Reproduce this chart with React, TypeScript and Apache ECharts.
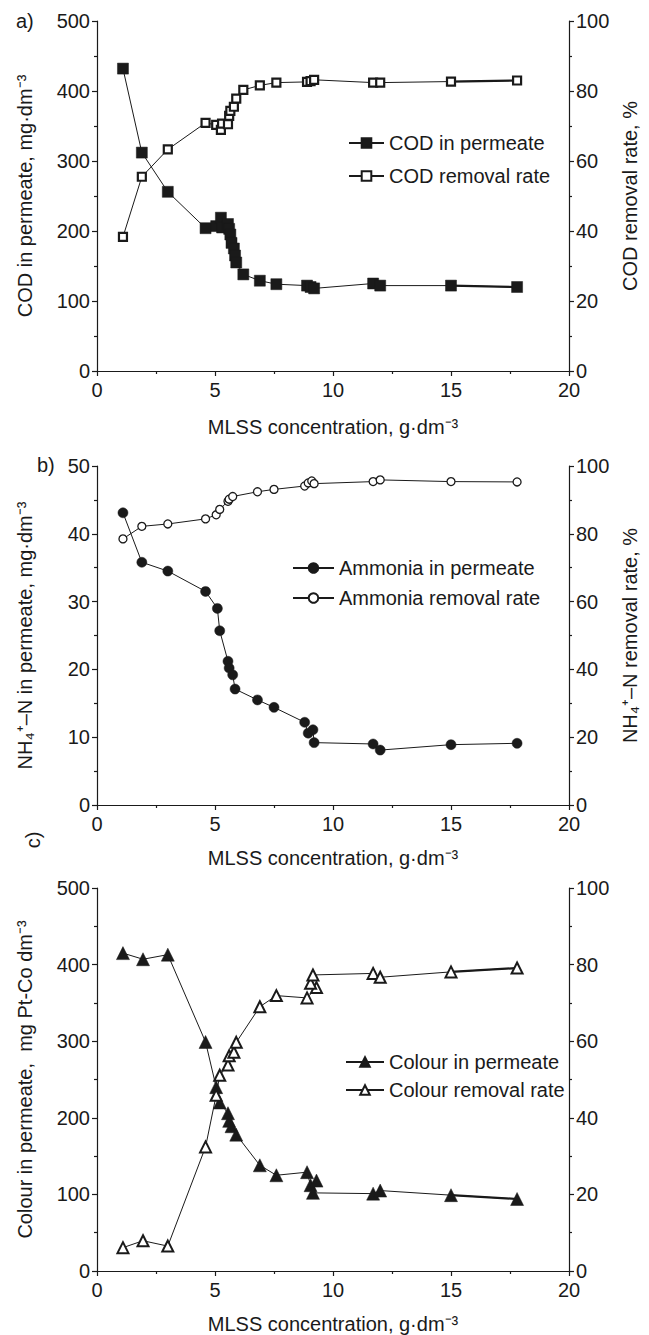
import React, { useEffect, useRef } from "react";
import * as echarts from "echarts";

// ---- Panel a: COD ----
const mlssCod = [1.1, 1.9, 3.0, 4.6, 5.05, 5.25, 5.3, 5.55, 5.6, 5.65, 5.7, 5.8, 5.85, 5.9, 6.2, 6.9, 7.6, 8.9, 9.05, 9.2, 11.7, 12.0, 15.0, 17.8];
const codPermeate = [432, 312, 256, 204, 207, 219, 205, 210, 203, 195, 183, 175, 165, 155, 138, 129, 124, 122, 120, 118, 125, 122, 122, 120];
const mlssCodRate = [1.1, 1.9, 3.0, 4.6, 5.05, 5.25, 5.3, 5.55, 5.6, 5.65, 5.8, 5.9, 6.2, 6.9, 7.6, 8.9, 9.05, 9.2, 11.7, 12.0, 15.0, 17.8];
const codRemoval = [38.3, 55.5, 63.3, 70.9, 70.3, 68.9, 70.7, 70.5, 72.9, 74.3, 75.5, 77.8, 80.3, 81.6, 82.4, 82.6, 82.8, 83.2, 82.4, 82.4, 82.7, 83.0];

// ---- Panel b: Ammonia ----
const mlssNh4 = [1.1, 1.9, 3.0, 4.6, 5.1, 5.2, 5.55, 5.6, 5.75, 5.85, 6.8, 7.5, 8.8, 8.95, 9.15, 9.2, 11.7, 12.0, 15.0, 17.8];
const nh4Permeate = [43.1, 35.8, 34.5, 31.5, 29.0, 25.7, 21.2, 20.2, 19.2, 17.1, 15.5, 14.4, 12.2, 10.6, 11.1, 9.2, 9.0, 8.1, 8.9, 9.1];
const mlssNh4Rate = [1.1, 1.9, 3.0, 4.6, 5.05, 5.2, 5.55, 5.6, 5.75, 6.8, 7.5, 8.8, 8.95, 9.1, 9.2, 11.7, 12.0, 15.0, 17.8];
const nh4Removal = [78.5, 82.2, 82.9, 84.4, 85.6, 87.2, 89.6, 90.2, 91.0, 92.4, 93.1, 94.1, 95.0, 95.6, 94.8, 95.4, 95.9, 95.4, 95.3];

// ---- Panel c: Colour ----
const mlssColour = [1.1, 1.95, 3.0, 4.6, 5.05, 5.2, 5.55, 5.6, 5.7, 5.9, 6.9, 7.6, 8.9, 9.05, 9.3, 9.15, 11.7, 12.0, 15.0, 17.8];
const colourPermeate = [415, 407, 413, 299, 240, 220, 206, 196, 189, 178, 138, 125, 129, 112, 118, 102, 101, 105, 99, 94];
const mlssColourRate = [1.1, 1.95, 3.0, 4.6, 5.05, 5.2, 5.55, 5.6, 5.8, 5.9, 6.9, 7.6, 8.9, 9.3, 9.05, 9.15, 11.7, 12.0, 15.0, 17.8];
const colourRemoval = [6.1, 7.9, 6.5, 32.4, 45.9, 51.1, 53.8, 56.2, 57.1, 59.7, 69.0, 71.9, 71.3, 74.0, 75.1, 77.3, 77.7, 76.7, 78.1, 79.1];

const xTitle = "MLSS concentration, g·dm⁻³";
const panelLabels = ["a)", "b)", "c)"];

const FONT = "'Liberation Sans', Arial, Helvetica, sans-serif";
const INK = "#1a1a1a";
const FS = 20;

const pairs = (xs: number[], ys: number[]) => xs.map((x, i) => [x, ys[i]]);
const lastTwo = (xs: number[], ys: number[]) => pairs(xs, ys).slice(-2);

const grids = [
  { left: 97, top: 21, width: 472, height: 350 },
  { left: 97, top: 466, width: 472, height: 339 },
  { left: 97, top: 888, width: 472, height: 383 },
];

function xAxisFor(i: number) {
  return {
    type: "value",
    gridIndex: i,
    min: 0,
    max: 20,
    interval: 5,
    name: xTitle,
    nameLocation: "middle",
    nameGap: i === 0 ? 46 : 43,
    nameTextStyle: { fontFamily: FONT, fontSize: FS, color: INK },
    axisLine: { show: true, onZero: false, lineStyle: { color: INK, width: 1.2 } },
    axisTick: { show: true, length: 5, lineStyle: { color: INK, width: 1.2 } },
    minorTick: { show: true, splitNumber: 2, length: 3, lineStyle: { color: INK, width: 1.2 } },
    splitLine: { show: false },
    minorSplitLine: { show: false },
    axisLabel: { fontFamily: FONT, fontSize: FS, color: INK, margin: 9 },
  };
}

function yAxisFor(i: number, pos: "left" | "right", max: number, interval: number, name: string) {
  return {
    type: "value",
    gridIndex: i,
    position: pos,
    min: 0,
    max,
    interval,
    name,
    nameLocation: "middle",
    nameRotate: 90,
    nameGap: pos === "left" ? 62 : 40,
    nameTextStyle: { fontFamily: FONT, fontSize: FS, color: INK },
    axisLine: { show: true, onZero: false, lineStyle: { color: INK, width: 1.2 } },
    axisTick: { show: true, length: 5, lineStyle: { color: INK, width: 1.2 } },
    minorTick: { show: true, splitNumber: 2, length: 3, lineStyle: { color: INK, width: 1.2 } },
    splitLine: { show: false },
    minorSplitLine: { show: false },
    axisLabel: { fontFamily: FONT, fontSize: FS, color: INK, margin: 7 },
  };
}

function lineSeries(name: string, xi: number, yi: number, data: number[][], symbol: string, size: number, filled: boolean, border = 2) {
  return {
    name,
    type: "line",
    xAxisIndex: xi,
    yAxisIndex: yi,
    data,
    symbol,
    symbolSize: size,
    showAllSymbol: true,
    z: 3,
    lineStyle: { color: INK, width: 1 },
    itemStyle: filled
      ? { color: INK, borderColor: INK, borderWidth: 0.5 }
      : { color: "#ffffff", borderColor: INK, borderWidth: border },
    emphasis: { disabled: true },
  };
}

// the final segment (15 -> 17.8) is drawn heavier in the original figure
function heavySegment(xi: number, yi: number, data: number[][]) {
  return {
    type: "line",
    xAxisIndex: xi,
    yAxisIndex: yi,
    data,
    symbol: "none",
    z: 2,
    silent: true,
    lineStyle: { color: INK, width: 2.2 },
    emphasis: { disabled: true },
  };
}

function legendFor(names: string[], left: number, top: number, gap: number, width: number) {
  return {
    data: names,
    orient: "vertical",
    left,
    top,
    itemWidth: width,
    itemHeight: 12,
    itemGap: gap,
    selectedMode: false,
    textStyle: { fontFamily: FONT, fontSize: FS, color: INK },
  };
}

export default function App() {
  const ref = useRef<HTMLDivElement>(null);
  useEffect(() => {
    if (!ref.current) return;
    const chart = echarts.init(ref.current, undefined, { renderer: "svg" });
    const option = {
      animation: false,
      backgroundColor: "#ffffff",
      grid: grids,
      xAxis: [xAxisFor(0), xAxisFor(1), xAxisFor(2)],
      yAxis: [
        yAxisFor(0, "left", 500, 100, "COD in permeate, mg·dm⁻³"),
        yAxisFor(0, "right", 100, 20, "COD removal rate, %"),
        yAxisFor(1, "left", 50, 10, "NH₄⁺–N in permeate, mg·dm⁻³"),
        yAxisFor(1, "right", 100, 20, "NH₄⁺–N removal rate, %"),
        yAxisFor(2, "left", 500, 100, "Colour in permeate,  mg Pt-Co dm⁻³"),
        yAxisFor(2, "right", 100, 20, ""),
      ],
      legend: [
        legendFor(["COD in permeate", "COD removal rate"], 343, 128, 13, 35),
        legendFor(["Ammonia in permeate", "Ammonia removal rate"], 287, 553, 10, 41),
        legendFor(["Colour in permeate", "Colour removal rate"], 340, 1047, 8, 38),
      ],
      series: [
        heavySegment(0, 0, lastTwo(mlssCod, codPermeate)),
        heavySegment(0, 1, lastTwo(mlssCodRate, codRemoval)),
        heavySegment(2, 4, lastTwo(mlssColour, colourPermeate)),
        heavySegment(2, 5, lastTwo(mlssColourRate, colourRemoval)),
        lineSeries("COD in permeate", 0, 0, pairs(mlssCod, codPermeate), "rect", 11, true),
        lineSeries("COD removal rate", 0, 1, pairs(mlssCodRate, codRemoval), "rect", 8, false, 2.2),
        lineSeries("Ammonia in permeate", 1, 2, pairs(mlssNh4, nh4Permeate), "circle", 10, true),
        lineSeries("Ammonia removal rate", 1, 3, pairs(mlssNh4Rate, nh4Removal), "circle", 8, false, 1.3),
        lineSeries("Colour in permeate", 2, 4, pairs(mlssColour, colourPermeate), "triangle", 13, true),
        lineSeries("Colour removal rate", 2, 5, pairs(mlssColourRate, colourRemoval), "triangle", 11, false, 2),
      ],
      graphic: [
        { type: "text", left: 16, top: 11, style: { text: panelLabels[0], fontFamily: FONT, fontSize: FS, fill: INK } },
        { type: "text", left: 37, top: 455, style: { text: panelLabels[1], fontFamily: FONT, fontSize: FS, fill: INK } },
        { type: "text", x: 33, y: 840, rotation: Math.PI / 2, style: { text: panelLabels[2], fontFamily: FONT, fontSize: FS, fill: INK, align: "center", verticalAlign: "middle" } },
      ],
    };
    chart.setOption(option as any);
    return () => chart.dispose();
  }, []);
  return (
    <div
      ref={ref}
      style={{ position: "absolute", left: 0, top: 0, width: 649, height: 1335, background: "#fff" }}
    />
  );
}
